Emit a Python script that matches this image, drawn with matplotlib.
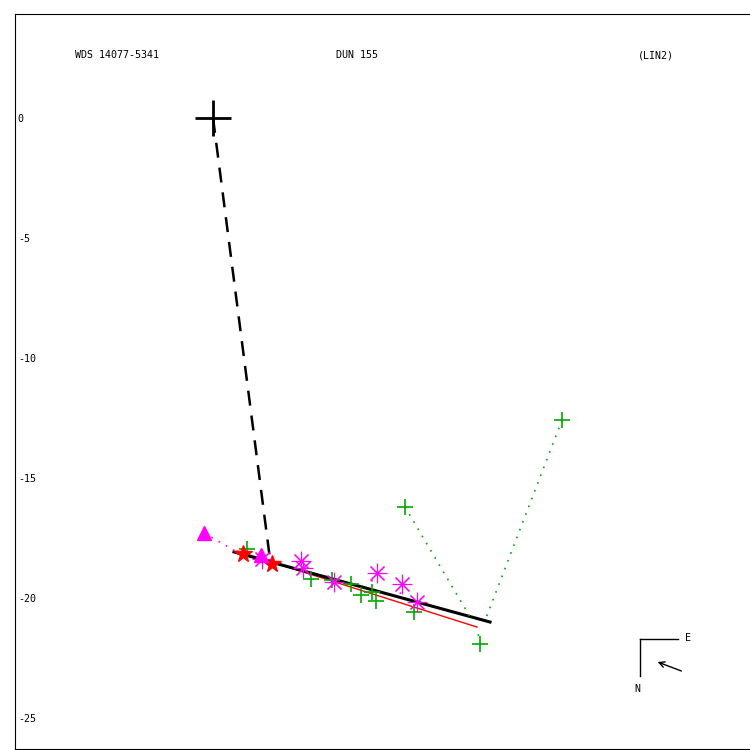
import matplotlib
matplotlib.use('Agg')
import matplotlib.pyplot as plt

# positions in arcsec (x east-west offset, y)
primary = (0.0, 0.0)
node_line = [(0.0, 2.35), (0.0, -18.2)]          # dashed line from primary
fit_black = [(0.875, 11.54), (-18.08, -21.0)]   # x pair, y pair
fit_red = [(1.0, 11.0), (-18.04, -21.21)]

tri_x = [-0.375, 2.0]
tri_y = [-17.29, -18.21]
star_x = [1.25, 2.46]
star_y = [-18.17, -18.58]
ast_x = [2.04, 3.67, 3.75, 5.04, 6.83, 7.875, 8.5]
ast_y = [-18.38, -18.46, -18.75, -19.33, -18.96, -19.42, -20.17]
plus_x = [1.42, 4.08, 4.96, 5.75, 6.17, 6.625, 6.79, 8.375, 11.125, 8.0, 14.54]
plus_y = [-17.96, -19.21, -19.25, -19.42, -19.875, -19.75, -20.125, -20.58, -21.92, -16.21, -12.58]

# residual connectors (obs -> predicted)
green_res = [((8.0, 10.79), (-16.21, -20.92)),
             ((14.54, 11.375), (-12.58, -20.83)),
             ((11.125, 11.0), (-21.92, -21.25))]
mag_res = [((-0.375, 0.92), (-17.29, -18.04)),
           ((6.83, 6.46), (-18.96, -19.54)),
           ((7.875, 7.79), (-19.42, -19.875))]

yticks = [0, -5, -10, -15, -20, -25]

fig = plt.figure(figsize=(7.5, 7.5), dpi=100)
ax = fig.add_axes([15/750, 1-749/750, 734/750, 735/750])
ax.set_xlim(-8.25, 22.33)
ax.set_ylim(-26.29, 4.333)

mono = 'DejaVu Sans Mono'
fs = 7.2

# dashed line from primary
ax.plot(node_line[0], node_line[1], color='black', ls=(0, (6, 4)), lw=1.8)
ax.plot(fit_red[0], fit_red[1], color='red', lw=1)
ax.plot(fit_black[0], fit_black[1], color='black', lw=2.2)

for xs, ys in green_res:
    ax.plot(xs, ys, color='#00aa00', ls=(0, (1, 4)), lw=1.2)
for xs, ys in mag_res:
    ax.plot(xs, ys, color='magenta', ls=(0, (1, 4)), lw=1.2)

ax.plot(plus_x, plus_y, ls='none', marker='+', color='#00aa00', ms=12, mew=1.2)
ax.plot(ast_x, ast_y, ls='none', marker=(8, 2, 0), color='magenta', ms=14, mew=0.8)
ax.plot(star_x, star_y, ls='none', marker='*', color='red', ms=13, mec='red')
ax.plot(tri_x, tri_y, ls='none', marker='^', color='magenta', ms=10)
ax.plot(*primary, marker='+', color='black', ms=26, mew=2)

ax.set_xticks([])
ax.set_yticks(yticks)
ax.set_yticklabels([str(t) for t in yticks], family=mono, fontsize=fs, ha='left')
ax.tick_params(axis='y', length=0, pad=-2)
ax.spines['right'].set_visible(False)

ax.text(75/750, 1-55/750, 'WDS 14077-5341', transform=fig.transFigure, family=mono, fontsize=fs, va='center')
ax.text(336/750, 1-55/750, 'DUN 155', transform=fig.transFigure, family=mono, fontsize=fs, va='center')
ax.text(638/750, 1-55/750, '(LIN2)', transform=fig.transFigure, family=mono, fontsize=fs, va='center')

# compass
tf = fig.transFigure
fig.add_artist(plt.Line2D([640/750, 678/750], [1-639/750, 1-639/750], color='black', lw=1, transform=tf))
fig.add_artist(plt.Line2D([640/750, 640/750], [1-639/750, 1-676/750], color='black', lw=1, transform=tf))
fig.text(685/750, 1-638/750, 'E', family=mono, fontsize=fs, va='center')
fig.text(637/750, 1-689/750, 'N', family=mono, fontsize=fs, va='center', ha='center')
ax.annotate('', xy=(655/750, 1-661/750), xytext=(684/750, 1-672/750), xycoords=tf, textcoords=tf,
            arrowprops=dict(arrowstyle='->', color='black', lw=1))

fig.savefig('out.png', dpi=100)
